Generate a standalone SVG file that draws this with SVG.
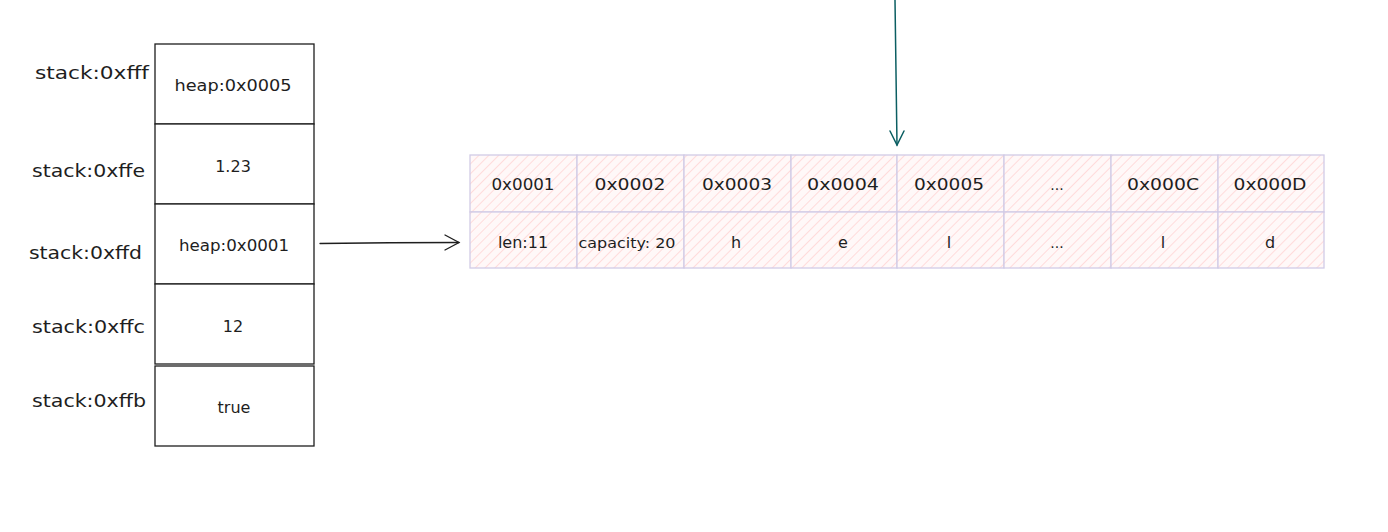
<svg xmlns="http://www.w3.org/2000/svg" width="1388" height="532" viewBox="0 0 1388 532">
  <style>
    .lbl { font-family: "DejaVu Sans", "Liberation Sans", sans-serif; font-size: 17px; fill: #1e1e1e; }
    .val { font-family: "DejaVu Sans", "Liberation Sans", sans-serif; font-size: 16px; fill: #1e1e1e; text-anchor: middle; }
    .small { font-family: "DejaVu Sans", "Liberation Sans", sans-serif; font-size: 14px; fill: #1e1e1e; text-anchor: middle; }
    .slot { fill: #ffffff; stroke: #1e1e1e; stroke-width: 1.3; }
    .cell { fill: url(#hatch); stroke: #d2cbe6; stroke-width: 1.3; }
    .wire { fill: none; stroke: #1e1e1e; stroke-width: 1.3; stroke-linecap: round; }
    .ptr { fill: none; stroke: #0b5e62; stroke-width: 1.5; stroke-linecap: round; }
  </style>
  <defs>
    <pattern id="hatch" patternUnits="userSpaceOnUse" width="7" height="7" patternTransform="rotate(45)">
      <rect width="7" height="7" fill="#fff8f8"/>
      <line x1="0" y1="0" x2="0" y2="7" stroke="#ffc4c4" stroke-width="1.1"/>
    </pattern>
  </defs>

  <rect width="1388" height="532" fill="#ffffff"/>

  <!-- stack frame -->
  <g id="stack-0xfff">
    <rect class="slot" x="155" y="44" width="159" height="80"/>
    <text class="lbl" x="35" y="79" textLength="114" lengthAdjust="spacingAndGlyphs">stack:0xfff</text>
    <text class="val" x="233" y="91" textLength="117" lengthAdjust="spacingAndGlyphs">heap:0x0005</text>
  </g>
  <g id="stack-0xffe">
    <rect class="slot" x="155" y="124" width="159" height="80"/>
    <text class="lbl" x="32" y="177" textLength="113" lengthAdjust="spacingAndGlyphs">stack:0xffe</text>
    <text class="val" x="233" y="172">1.23</text>
  </g>
  <g id="stack-0xffd">
    <rect class="slot" x="155" y="204" width="159" height="80"/>
    <text class="lbl" x="29" y="259" textLength="113" lengthAdjust="spacingAndGlyphs">stack:0xffd</text>
    <text class="val" x="234" y="251" textLength="110" lengthAdjust="spacingAndGlyphs">heap:0x0001</text>
  </g>
  <g id="stack-0xffc">
    <rect class="slot" x="155" y="284" width="159" height="80"/>
    <text class="lbl" x="32" y="333" textLength="113" lengthAdjust="spacingAndGlyphs">stack:0xffc</text>
    <text class="val" x="233" y="332">12</text>
  </g>
  <g id="stack-0xffb">
    <rect class="slot" x="155" y="366" width="159" height="80"/>
    <text class="lbl" x="32" y="407" textLength="114" lengthAdjust="spacingAndGlyphs">stack:0xffb</text>
    <text class="val" x="234" y="413" font-size="17">true</text>
  </g>

  <!-- heap block: address row and content row -->
  <g id="heap">
    <g id="heap-0x0001">
      <rect class="cell" x="470" y="155" width="107" height="57"/>
      <rect class="cell" x="470" y="212" width="107" height="56"/>
      <text class="val" x="523" y="190" textLength="63" lengthAdjust="spacingAndGlyphs">0x0001</text>
      <text class="val" x="523" y="248" font-size="15">len:11</text>
    </g>
    <g id="heap-0x0002">
      <rect class="cell" x="577" y="155" width="107" height="57"/>
      <rect class="cell" x="577" y="212" width="107" height="56"/>
      <text class="val" x="630" y="190" textLength="71" lengthAdjust="spacingAndGlyphs">0x0002</text>
      <text class="small" x="627" y="248" textLength="97" lengthAdjust="spacingAndGlyphs">capacity: 20</text>
    </g>
    <g id="heap-0x0003">
      <rect class="cell" x="684" y="155" width="107" height="57"/>
      <rect class="cell" x="684" y="212" width="107" height="56"/>
      <text class="val" x="737" y="190" textLength="70" lengthAdjust="spacingAndGlyphs">0x0003</text>
      <text class="val" x="736" y="248">h</text>
    </g>
    <g id="heap-0x0004">
      <rect class="cell" x="791" y="155" width="106" height="57"/>
      <rect class="cell" x="791" y="212" width="106" height="56"/>
      <text class="val" x="843" y="190" textLength="72" lengthAdjust="spacingAndGlyphs">0x0004</text>
      <text class="val" x="843" y="248">e</text>
    </g>
    <g id="heap-0x0005">
      <rect class="cell" x="897" y="155" width="107" height="57"/>
      <rect class="cell" x="897" y="212" width="107" height="56"/>
      <text class="val" x="949" y="190" textLength="70" lengthAdjust="spacingAndGlyphs">0x0005</text>
      <text class="val" x="949" y="248">l</text>
    </g>
    <g id="heap-gap">
      <rect class="cell" x="1004" y="155" width="107" height="57"/>
      <rect class="cell" x="1004" y="212" width="107" height="56"/>
      <text class="small" x="1057" y="190" font-size="11">...</text>
      <text class="small" x="1057" y="248" font-size="11">...</text>
    </g>
    <g id="heap-0x000C">
      <rect class="cell" x="1111" y="155" width="107" height="57"/>
      <rect class="cell" x="1111" y="212" width="107" height="56"/>
      <text class="val" x="1163" y="190" textLength="72" lengthAdjust="spacingAndGlyphs">0x000C</text>
      <text class="val" x="1163" y="248">l</text>
    </g>
    <g id="heap-0x000D">
      <rect class="cell" x="1218" y="155" width="106" height="57"/>
      <rect class="cell" x="1218" y="212" width="106" height="56"/>
      <text class="val" x="1270" y="190" textLength="73" lengthAdjust="spacingAndGlyphs">0x000D</text>
      <text class="val" x="1270" y="248">d</text>
    </g>
  </g>

  <!-- connectors -->
  <g id="connectors">
    <path class="wire" d="M320 243.5 Q390 242.6 459 242.5"/>
    <path class="wire" d="M445 235 L459 242.5 L445 250"/>
    <path class="ptr" d="M895 0 Q896 70 897 145"/>
    <path class="ptr" d="M890 131 L897 145 L904 131"/>
  </g>
</svg>
